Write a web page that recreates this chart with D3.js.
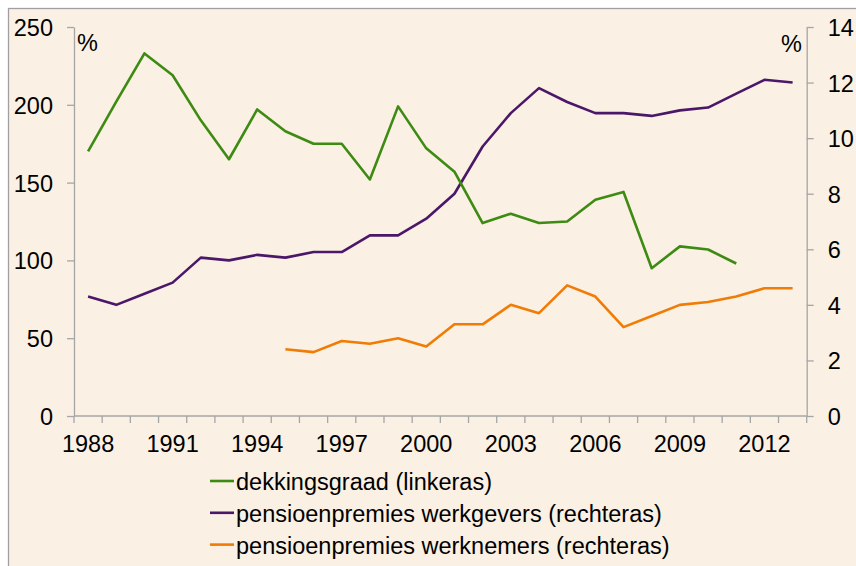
<!DOCTYPE html>
<head>
  <meta charset="utf-8">
  <title>Dekkingsgraad en pensioenpremies</title>
  <style>
    body { margin: 0; background: #fff; }
    text { font-family: "Liberation Sans", Arial, sans-serif; fill: #000; }
    .axis path, .axis line { stroke: #a6a6a6; stroke-width: 1.3px; }
    .axis text { font-size: 23.5px; }
    .serie { fill: none; stroke-width: 2.6px; stroke-linejoin: round; }
    .legend text { font-size: 23.5px; }
  </style>
</head>
<body>
  <div id="chart"></div>
  <script src="https://d3js.org/d3.v7.min.js"></script>
  <script>
    // jaren (categorie-as)
    var jaren = d3.range(1988, 2014);

    // dekkingsgraad, linkeras (%), 1988-2011
    var dekkingsgraad = [170, 202, 233, 219, 190, 165, 197, 183, 175, 175, 152, 199,
                         172, 157, 124, 130, 124, 125, 139, 144, 95, 109, 107, 98];

    // pensioenpremies werkgevers, rechteras (%), 1988-2013
    var premieWerkgevers = [4.3, 4.0, 4.4, 4.8, 5.7, 5.6, 5.8, 5.7, 5.9, 5.9, 6.5, 6.5,
                            7.1, 8.0, 9.7, 10.9, 11.8, 11.3, 10.9, 10.9, 10.8, 11.0, 11.1, 11.6, 12.1, 12.0];

    // pensioenpremies werknemers, rechteras (%), 1995-2013
    var jarenWerknemers = d3.range(1995, 2014);
    var premieWerknemers = [2.4, 2.3, 2.7, 2.6, 2.8, 2.5, 3.3, 3.3, 4.0, 3.7, 4.7, 4.3,
                            3.2, 3.6, 4.0, 4.1, 4.3, 4.6, 4.6];

    var linksTicks = [0, 50, 100, 150, 200, 250];
    var rechtsTicks = [0, 2, 4, 6, 8, 10, 12, 14];
    var labelJaren = [1988, 1991, 1994, 1997, 2000, 2003, 2006, 2009, 2012];

    var legenda = [
      { naam: "dekkingsgraad (linkeras)", kleur: "#3d8b12" },
      { naam: "pensioenpremies werkgevers (rechteras)", kleur: "#4b1768" },
      { naam: "pensioenpremies werknemers (rechteras)", kleur: "#f07b05" }
    ];

    var width = 856, height = 566;
    var plotLinks = 74, plotRechts = 806.7, plotBoven = 27, plotOnder = 416;

    var svg = d3.select("#chart").append("svg")
        .attr("width", width)
        .attr("height", height);

    // achtergrond en kader
    svg.append("rect")
        .attr("x", 8.5).attr("y", 8.5)
        .attr("width", width + 10).attr("height", height + 10)
        .attr("fill", "#faf0e4")
        .attr("stroke", "#a0a0a0")
        .attr("stroke-width", 1.3);

    var x = d3.scaleBand().domain(jaren).range([plotLinks, plotRechts]).padding(0);
    var yL = d3.scaleLinear().domain([0, 250]).range([plotOnder, plotBoven]);
    var yR = d3.scaleLinear().domain([0, 14]).range([plotOnder, plotBoven]);
    var midden = function(j) { return x(j) + x.bandwidth() / 2; };

    // linkeras
    var gL = svg.append("g").attr("class", "axis")
        .attr("transform", "translate(" + plotLinks + ",0)")
        .call(d3.axisLeft(yL).tickValues(linksTicks).tickSize(7).tickPadding(14).tickSizeOuter(0));
    gL.selectAll("text").attr("dy", "0.36em");

    // rechteras
    var gR = svg.append("g").attr("class", "axis")
        .attr("transform", "translate(" + plotRechts + ",0)")
        .call(d3.axisRight(yR).tickValues(rechtsTicks).tickSize(7).tickPadding(14).tickSizeOuter(0));
    gR.selectAll("text").attr("dy", "0.36em");

    // x-as: streepjes op de grenzen, labels in het midden
    var gX = svg.append("g").attr("class", "axis");
    gX.append("line")
        .attr("x1", plotLinks).attr("x2", plotRechts)
        .attr("y1", plotOnder).attr("y2", plotOnder);
    gX.selectAll(".streep")
        .data(jaren.concat([null]))
        .enter().append("line")
        .attr("class", "streep")
        .attr("x1", function(d) { return d === null ? plotRechts : x(d); })
        .attr("x2", function(d) { return d === null ? plotRechts : x(d); })
        .attr("y1", plotOnder).attr("y2", plotOnder + 7);
    gX.selectAll(".jaar")
        .data(labelJaren)
        .enter().append("text")
        .attr("class", "jaar")
        .attr("x", midden)
        .attr("y", 452)
        .attr("text-anchor", "middle")
        .text(function(d) { return d; });

    svg.append("text").attr("x", 77).attr("y", 51).style("font-size", "23.5px").text("%");
    svg.append("text").attr("x", 802).attr("y", 52).attr("text-anchor", "end")
        .style("font-size", "23.5px").text("%");

    // lijnen
    var lijnL = d3.line().x(function(d) { return midden(d[0]); }).y(function(d) { return yL(d[1]); });
    var lijnR = d3.line().x(function(d) { return midden(d[0]); }).y(function(d) { return yR(d[1]); });

    svg.append("path").attr("class", "serie")
        .attr("stroke", legenda[1].kleur)
        .attr("d", lijnR(d3.zip(jaren, premieWerkgevers)));
    svg.append("path").attr("class", "serie")
        .attr("stroke", legenda[2].kleur)
        .attr("d", lijnR(d3.zip(jarenWerknemers, premieWerknemers)));
    svg.append("path").attr("class", "serie")
        .attr("stroke", legenda[0].kleur)
        .attr("d", lijnL(d3.zip(jaren.slice(0, dekkingsgraad.length), dekkingsgraad)));

    // legenda
    var leg = svg.append("g").attr("class", "legend")
        .selectAll("g")
        .data(legenda)
        .enter().append("g")
        .attr("transform", function(d, i) { return "translate(210," + (481 + i * 31.8) + ")"; });
    leg.append("line")
        .attr("x1", 0).attr("x2", 24)
        .attr("stroke", function(d) { return d.kleur; })
        .attr("stroke-width", 2.6);
    leg.append("text")
        .attr("x", 26).attr("y", 9)
        .text(function(d) { return d.naam; });
  </script>
</body>
